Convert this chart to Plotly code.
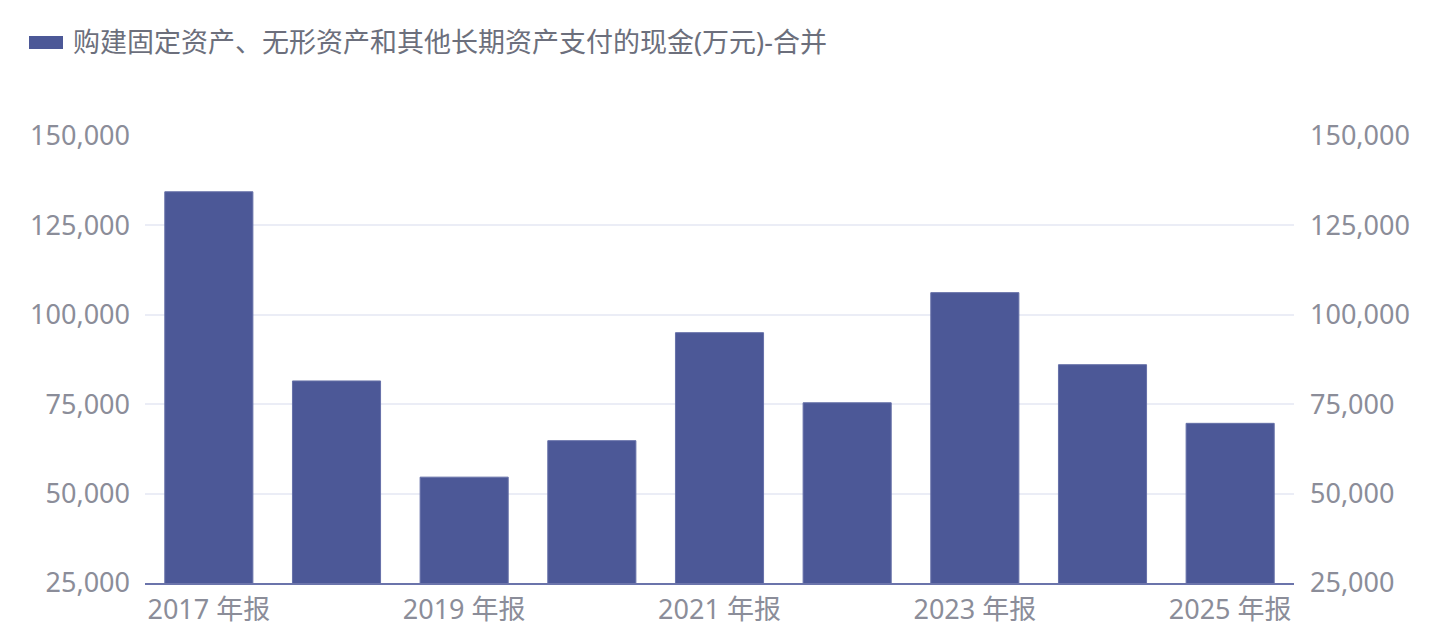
import plotly.graph_objects as go

# data
categories = ['2017 年报', '2018 年报', '2019 年报', '2020 年报', '2021 年报',
              '2022 年报', '2023 年报', '2024 年报', '2025 年报']
values = [134400, 81500, 54600, 64800, 95000, 75400, 106200, 86050, 69650]
series_name = '购建固定资产、无形资产和其他长期资产支付的现金(万元)-合并'
shown_ticks = ['2017 年报', '2019 年报', '2021 年报', '2023 年报', '2025 年报']
y_ticks = [25000, 50000, 75000, 100000, 125000, 150000]

# the page has an 8px body margin, so the figure is a bit smaller
W, H = 1423, 619
L, R, T, B = 137, 137, 128, 44
BAR = '#4c5897'
TICK = '#8b8d99'
FONT = 'Noto Sans, Noto Sans CJK SC, sans-serif'


def px_x(x):
    return (x - L) / (W - L - R)


def px_y(y):
    return 1 + (T - y) / (H - T - B)


fig = go.Figure()
fig.add_trace(go.Bar(
    x=categories,
    y=values,
    name=series_name,
    marker=dict(color=BAR, line=dict(color='#6670a8', width=1)),
    showlegend=False,
))
# invisible copy so the right axis gets drawn
fig.add_trace(go.Scatter(
    x=categories,
    y=values,
    yaxis='y2',
    mode='markers',
    marker=dict(opacity=0),
    hoverinfo='skip',
    showlegend=False,
))

yaxis_style = dict(
    range=[y_ticks[0], y_ticks[-1]],
    tickvals=y_ticks,
    tickformat=',',
    tickfont=dict(size=27, color=TICK, family=FONT),
    showline=False,
    zeroline=False,
    ticks='',
    automargin=False,
)

fig.update_layout(
    width=W,
    height=H,
    margin=dict(l=L, r=R, t=T, b=B, pad=0),
    plot_bgcolor='white',
    paper_bgcolor='white',
    font=dict(family=FONT),
    bargap=0.31,
    xaxis=dict(
        type='category',
        tickvals=shown_ticks,
        ticktext=shown_ticks,
        tickfont=dict(size=27, color=TICK, family=FONT),
        showline=True,
        linecolor='#6b74ab',
        linewidth=2,
        showgrid=False,
        ticks='',
        ticklabelstandoff=2,
        automargin=False,
    ),
    yaxis=dict(**yaxis_style, showgrid=True, gridcolor='#ebedf6', gridwidth=2,
               ticklabelstandoff=14),
    yaxis2=dict(**yaxis_style, overlaying='y', side='right', showgrid=False,
                ticklabelstandoff=15),
    shapes=[dict(
        type='rect', xref='paper', yref='paper',
        x0=px_x(21), x1=px_x(55), y0=px_y(41), y1=px_y(28),
        fillcolor=BAR, line=dict(width=0),
    )],
    annotations=[dict(
        text=series_name, xref='paper', yref='paper',
        x=px_x(63), y=px_y(34), xanchor='left', yanchor='middle',
        showarrow=False, font=dict(size=27, color='#6c6f7c', family=FONT),
    )],
)

fig.write_html('out.html')
